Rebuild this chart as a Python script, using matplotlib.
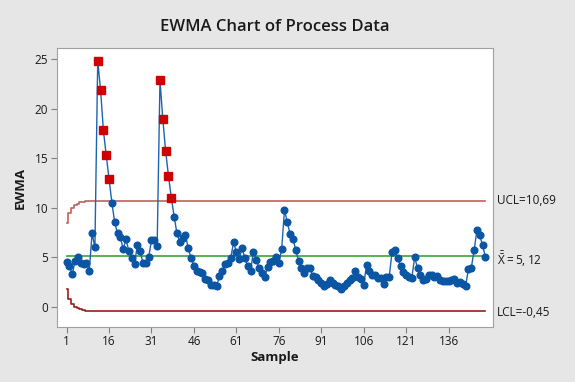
import numpy as np
import matplotlib.pyplot as plt

# EWMA values, samples 1..149
ewma = [
    4.5, 4.1, 3.3, 4.6, 5.0, 4.4, 4.3, 4.4, 3.6, 7.4,
    6.0, 24.8, 21.9, 17.8, 15.3, 12.9, 10.5, 8.5, 7.4, 7.0,
    5.8, 6.8, 5.6, 4.9, 4.3, 6.2, 5.6, 4.4, 4.4, 5.0,
    6.7, 6.7, 6.1, 22.9, 18.9, 15.7, 13.2, 11.0, 9.1, 7.4,
    6.5, 6.95, 7.2, 5.9, 4.9, 4.1, 3.6, 3.5, 3.4, 2.8,
    2.7, 2.2, 2.2, 2.05, 3.1, 3.6, 4.35, 4.4, 4.9, 6.5,
    5.5, 4.8, 5.9, 4.9, 4.1, 3.6, 5.5, 4.75, 3.9, 3.4,
    3.0, 4.0, 4.5, 4.6, 5.0, 4.4, 5.8, 9.8, 8.5, 7.3,
    6.85, 5.7, 4.6, 3.9, 3.4, 3.9, 3.9, 3.1, 3.0, 2.7,
    2.4, 2.05, 2.3, 2.65, 2.4, 2.2, 2.05, 1.8, 2.1, 2.4,
    2.7, 2.9, 3.6, 3.0, 2.8, 2.2, 4.25, 3.6, 3.2, 3.2,
    2.9, 2.9, 2.3, 3.0, 3.0, 5.5, 5.7, 4.9, 4.1, 3.5,
    3.2, 3.0, 2.9, 5.0, 3.9, 3.2, 2.7, 2.8, 3.2, 3.2,
    3.0, 3.1, 2.7, 2.55, 2.55, 2.6, 2.7, 2.8, 2.4, 2.45,
    2.3, 2.1, 3.8, 3.9, 5.7, 7.7, 7.2, 6.2, 5.0,
]

center = 5.12
ucl_final = 10.69
lcl_final = -0.45
# limits at the first samples (they widen to the final values)
ucl_start = [8.46, 9.46, 9.95, 10.24, 10.41, 10.52, 10.59, 10.63, 10.65, 10.67, 10.68]
lcl_start = [1.78, 0.78, 0.29, 0.00, -0.17, -0.28, -0.35, -0.39, -0.41, -0.43, -0.44]

xticks = [1, 16, 31, 46, 61, 76, 91, 106, 121, 136]
yticks = [0, 5, 10, 15, 20, 25]

samples = np.arange(1, len(ewma) + 1)
vals = np.array(ewma)
n = len(ewma)
ucl = np.array(ucl_start + [ucl_final] * (n - len(ucl_start)))
lcl = np.array(lcl_start + [lcl_final] * (n - len(lcl_start)))

plt.rcParams['font.family'] = ['Open Sans', 'DejaVu Sans']
plt.rcParams['mathtext.fontset'] = 'custom'
plt.rcParams['mathtext.rm'] = 'Open Sans'

fig = plt.figure(figsize=(5.75, 3.82), dpi=100, facecolor='#e6e6e6')
ax = fig.add_axes([0.0986, 0.144, 0.7584, 0.730])
ax.set_facecolor('white')

ax.plot(samples, ucl, drawstyle='steps-mid', color='#c0605c', lw=1.2)
ax.plot(samples, lcl, drawstyle='steps-mid', color='#9b1c1c', lw=1.2)
ax.plot([1, n], [center, center], color='#3aa43a', lw=1.2)

ax.plot(samples, vals, color='#1d63b0', lw=1.0, marker='o', ms=4.8,
        mfc='#0b56a4', mec='#0b56a4', zorder=3)
out = (vals > ucl) | (vals < lcl)
ax.plot(samples[out], vals[out], ls='none', marker='s', ms=6,
        mfc='#d00000', mec='#d00000', zorder=4)

ax.set_xlim(-2.5, 151.6)
ax.set_ylim(-2.05, 26.1)
ax.set_xticks(xticks)
ax.set_yticks(yticks)
ax.tick_params(direction='out', length=4, color='#808080', labelsize=8.5,
               labelcolor='#1a1a1a', pad=2)
for s in ax.spines.values():
    s.set_color('#a0a0a0')

ax.set_xlabel('Sample', fontsize=9.5, fontweight='bold', color='#1a1a1a', labelpad=2)
ax.set_ylabel('EWMA', fontsize=9.5, fontweight='bold', color='#1a1a1a', labelpad=6)
fig.suptitle('EWMA Chart of Process Data', x=0.4785, y=0.95, fontsize=12,
             fontweight='semibold', color='#1a1a1a')

tx = 1.01
ax.text(tx, ucl_final, 'UCL=10,69', transform=ax.get_yaxis_transform(),
        fontsize=8.5, va='center', ha='left', color='#1a1a1a')
ax.text(tx, center - 0.3, r'$\bar{\bar{\mathrm{X}}}\mathrm{=5,12}$',
        transform=ax.get_yaxis_transform(),
        fontsize=8.5, va='center', ha='left', color='#1a1a1a')
ax.text(tx, lcl_final - 0.1, 'LCL=-0,45', transform=ax.get_yaxis_transform(),
        fontsize=8.5, va='center', ha='left', color='#1a1a1a')

fig.savefig('out.png', dpi=100, facecolor=fig.get_facecolor())
